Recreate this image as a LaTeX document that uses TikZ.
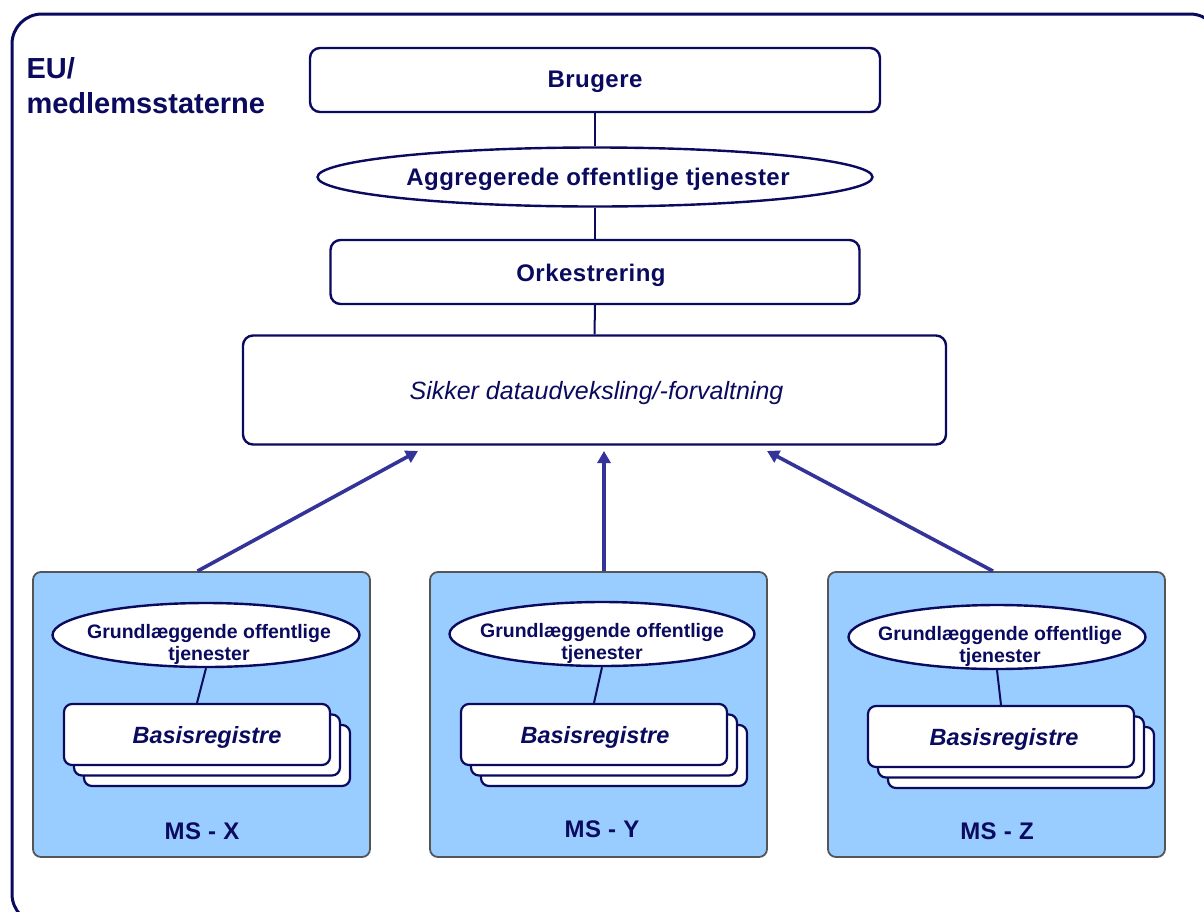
\documentclass[tikz,border=0pt]{standalone}
\usepackage{fontspec}
\setmainfont{Liberation Sans}
\usetikzlibrary{shapes.geometric,calc,arrows.meta}
\definecolor{navy}{HTML}{0A0A5E}
\definecolor{arrowblue}{HTML}{333399}
\definecolor{msfill}{HTML}{99CCFF}
\definecolor{msline}{HTML}{555555}
\newfontfamily\widefont[LetterSpace=2]{Liberation Sans}
\tikzset{
  x=1pt, y=-1pt,
  frame/.style={draw=navy, line width=3pt, rounded corners=30pt},
  whitebox/.style={draw=navy, fill=white, line width=2.4pt, rounded corners=10pt, inner sep=0pt},
  oval/.style={ellipse, draw=navy, fill=white, line width=2.4pt, inner sep=0pt},
  msbox/.style={draw=msline, fill=msfill, line width=1.8pt, rounded corners=8pt, inner sep=0pt},
  regbox/.style={draw=navy, fill=white, line width=2.2pt, rounded corners=8pt, inner sep=0pt,
    minimum width=266pt, minimum height=61pt},
  link/.style={draw=navy, line width=2pt},
  feed/.style={draw=arrowblue, line width=3.6pt, -{Triangle[length=12pt,width=13pt]}},
  lbl/.style={text=navy, font=\widefont\bfseries\fontsize{24}{28}\selectfont},
  grund/.style={text=navy, align=center, font=\bfseries\fontsize{19.5}{22}\selectfont},
  reg/.style={text=navy, font=\bfseries\itshape\fontsize{23.5}{26}\selectfont},
  mslbl/.style={text=navy, font=\widefont\bfseries\fontsize{24}{28}\selectfont},
}
\begin{document}
\begin{tikzpicture}
\useasboundingbox (0,0) rectangle (1204,911);
\fill[white] (0,0) rectangle (1204,911);
\begin{scope}
  \clip (0,0) rectangle (1204,911);
  \draw[frame] (12,14) rectangle (1220,924);
\end{scope}
\node[anchor=base west, text=navy, font=\bfseries\fontsize{29}{35}\selectfont] (eu) at (23,78) {EU/};
\node[anchor=base west, text=navy, font=\bfseries\fontsize{29}{35}\selectfont] (ms) at (23,113) {medlemsstaterne};

% upper stack
\node[whitebox, minimum width=570pt, minimum height=64pt] (brugere) at (595,80) {};
\node[lbl] at ($(brugere.center)+(0,2)$) {Brugere};
\node[oval, minimum width=555pt, minimum height=59pt] (agg) at (595,177) {};
\node[lbl] at ($(agg.center)+(3,2)$) {Aggregerede offentlige tjenester};
\node[whitebox, minimum width=529pt, minimum height=64pt] (orch) at (595,272) {};
\node[lbl] at ($(orch.center)+(-4,3)$) {Orkestrering};
\node[whitebox, minimum width=703pt, minimum height=109pt] (sikker) at (594.5,390) {};
\node[text=navy, font=\itshape\fontsize{25}{28}\selectfont] at ($(sikker.center)+(2,3)$) {Sikker dataudveksling/-forvaltning};
\draw[link] (brugere.south) -- (agg.north);
\draw[link] (agg.south) -- (orch.north);
\draw[link] (orch.south) -- (sikker.north);

% member state boxes
\node[msbox, minimum width=337pt, minimum height=285pt] (msx) at (201.5,714.5) {};
\node[msbox, minimum width=337pt, minimum height=285pt] (msy) at (598.5,714.5) {};
\node[msbox, minimum width=337pt, minimum height=285pt] (msz) at (996.5,714.5) {};

% MS - X
\node[oval, minimum width=307pt, minimum height=64pt] (gx) at (206,635) {};
\node[grund] at ($(gx.center)+(3,9)$) {Grundlæggende offentlige\\tjenester};
\node[regbox] (bx3) at (217,755.5) {};
\node[regbox] (bx2) at (207,745) {};
\node[regbox] (bx1) at (197,734.5) {};
\node[reg] at ($(bx1.center)+(10,3)$) {Basisregistre};
\draw[link] (gx.south) -- (bx1.north);
\node[mslbl] (lx) at (202,831) {MS - X};

% MS - Y
\node[oval, minimum width=305pt, minimum height=64pt] (gy) at (602,634) {};
\node[grund] at ($(gy.center)+(0,9)$) {Grundlæggende offentlige\\tjenester};
\node[regbox] (by3) at (614,755.5) {};
\node[regbox] (by2) at (604,745) {};
\node[regbox] (by1) at (594,734.5) {};
\node[reg] at ($(by1.center)+(1,3)$) {Basisregistre};
\draw[link] (gy.south) -- (by1.north);
\node[mslbl] (ly) at (602,829) {MS - Y};

% MS - Z
\node[oval, minimum width=297pt, minimum height=64pt] (gz) at (997,637) {};
\node[grund] at ($(gz.center)+(3,9)$) {Grundlæggende offentlige\\tjenester};
\node[regbox] (bz3) at (1021,757.5) {};
\node[regbox] (bz2) at (1011,747) {};
\node[regbox] (bz1) at (1001,736.5) {};
\node[reg] at ($(bz1.center)+(3,3)$) {Basisregistre};
\draw[link] (gz.south) -- (bz1.north);
\node[mslbl] (lz) at (997,831) {MS - Z};

% feeds into the exchange layer
\coordinate (tx) at (418,451);
\coordinate (ty) at (604,451);
\coordinate (tz) at (767,451);
\draw[feed] ($(msx.north)+(-4,0)$) -- (tx);
\draw[feed] ($(msy.north)+(5.5,0)$) -- (ty);
\draw[feed] ($(msz.north)+(-3.5,0)$) -- (tz);
\end{tikzpicture}
\end{document}
